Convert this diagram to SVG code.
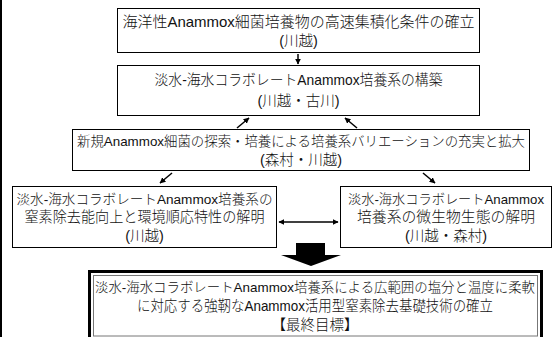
<svg xmlns="http://www.w3.org/2000/svg" width="555" height="337" viewBox="0 0 555 337">
<defs>
<style>
.box{fill:#fff;stroke:#000;stroke-width:1}
.t{font-family:"Liberation Sans","Noto Sans CJK JP","Noto Sans CJK SC",sans-serif;font-size:14.5px;font-weight:300;fill:#111;text-anchor:middle}
.s{font-size:13.4px}
.ln{stroke:#000;stroke-width:1.5;fill:none}
</style>
<marker id="ah" viewBox="0 0 10 10" refX="9" refY="5" markerWidth="6" markerHeight="6" orient="auto-start-reverse" markerUnits="userSpaceOnUse">
<path d="M0,0 L10,5 L0,10 z" fill="#000"/>
</marker>
</defs>
<rect x="0" y="0" width="2" height="337" fill="#000"/>
<g id="n1">
<rect class="box" x="117.5" y="8.5" width="362" height="44"/>
<text class="t" x="298.5" y="27" textLength="352" lengthAdjust="spacingAndGlyphs">海洋性Anammox細菌培養物の高速集積化条件の確立</text>
<text class="t" x="298.5" y="46">(川越)</text>
</g>
<g id="n2">
<rect class="box" x="117.5" y="65.5" width="362" height="50"/>
<text class="t" x="298.5" y="85" textLength="288" lengthAdjust="spacingAndGlyphs">淡水-海水コラボレートAnammox培養系の構築</text>
<text class="t" x="298.5" y="106">(川越・古川)</text>
</g>
<g id="n3">
<rect class="box" x="72.5" y="129.5" width="457" height="41"/>
<text class="t s" x="301" y="146" textLength="448" lengthAdjust="spacingAndGlyphs">新規Anammox細菌の探索・培養による培養系バリエーションの充実と拡大</text>
<text class="t" x="301" y="165">(森村・川越)</text>
</g>
<g id="n4">
<rect class="box" x="12.5" y="186.5" width="264" height="61"/>
<text class="t" x="144.5" y="204" textLength="256" lengthAdjust="spacingAndGlyphs" style="font-size:13.7px">淡水-海水コラボレートAnammox培養系の</text>
<text class="t" x="144.5" y="222" textLength="240" lengthAdjust="spacingAndGlyphs">窒素除去能向上と環境順応特性の解明</text>
<text class="t" x="144.5" y="241">(川越)</text>
</g>
<g id="n5">
<rect class="box" x="340.5" y="186.5" width="211" height="61"/>
<text class="t" x="446" y="204" textLength="196" lengthAdjust="spacingAndGlyphs" style="font-size:13.2px">淡水-海水コラボレートAnammox</text>
<text class="t" x="446" y="222" textLength="178" lengthAdjust="spacingAndGlyphs">培養系の微生物生態の解明</text>
<text class="t" x="446" y="241">(川越・森村)</text>
</g>
<g id="n6">
<rect x="89.5" y="271.5" width="452" height="70" fill="#fff" stroke="#000" stroke-width="3"/>
<rect x="93.5" y="275.5" width="444" height="60.5" fill="none" stroke="#777" stroke-width="1"/>
<text class="t s" x="315" y="292" textLength="440" lengthAdjust="spacingAndGlyphs">淡水-海水コラボレートAnammox培養系による広範囲の塩分と温度に柔軟</text>
<text class="t" x="315" y="311" textLength="356" lengthAdjust="spacingAndGlyphs">に対応する強靭なAnammox活用型窒素除去基礎技術の確立</text>
<text class="t" x="315" y="330">【最終目標】</text>
</g>
<g id="connectors">
<line class="ln" x1="298" y1="54" x2="298" y2="64" marker-end="url(#ah)"/>
<line class="ln" x1="237" y1="128" x2="249" y2="118" marker-end="url(#ah)"/>
<line class="ln" x1="357" y1="128" x2="345" y2="118" marker-end="url(#ah)"/>
<line class="ln" x1="172" y1="173" x2="160" y2="183" marker-end="url(#ah)"/>
<line class="ln" x1="423" y1="173" x2="435" y2="183" marker-end="url(#ah)"/>
<line class="ln" x1="279" y1="222" x2="338" y2="222" marker-start="url(#ah)" marker-end="url(#ah)"/>
<polygon points="296,243 325,243 325,255 341,255 311,266 281,255 296,255" fill="#000"/>
</g>
</svg>
